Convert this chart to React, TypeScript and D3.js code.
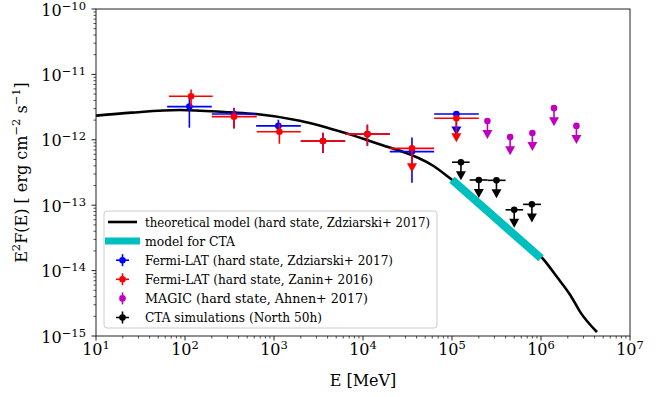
import * as d3 from 'd3';
import { useEffect, useRef } from 'react';

const width = 664;
const height = 397;

// theoretical model (hard state, Zdziarski+ 2017)
const modelE = [10, 25, 87, 316, 630, 1950, 6600, 2.0e4, 2.6e4, 6.2e4, 9.5e4, 3.16e5, 1.12e6, 1.5e6, 2.14e6, 2.75e6, 4.25e6];
const modelF = [2.34e-12, 2.6e-12, 2.86e-12, 2.63e-12, 2.48e-12, 1.96e-12, 1.25e-12, 7.6e-13, 6.8e-13, 3.98e-13, 2.58e-13, 6.3e-14, 1.37e-14, 8.1e-15, 4.2e-15, 2.34e-15, 1.15e-15];

// model for CTA
const ctaModelE = [1e5, 1e6];
const ctaModelF = [2.45e-13, 1.55e-14];

// Fermi-LAT (hard state, Zdziarski+ 2017)
const zdzE = [112, 355, 1120, 3550, 11200, 35500, 112000];
const zdzElo = [63, 200, 630, 2000, 6300, 20000, 63000];
const zdzEhi = [200, 630, 2000, 6300, 20000, 63000, 200000];
const zdzF = [3.22e-12, 2.48e-12, 1.63e-12, 9.55e-13, 1.22e-12, 6.6e-13, 2.48e-12];
const zdzFlo = [1.53e-12, 1.53e-12, 1.24e-12, 6.3e-13, 8.1e-13, 2.2e-13, null];
const zdzFhi = [4.43e-12, 3.1e-12, 2.03e-12, 1.28e-12, 1.7e-12, 1.08e-12, null];
const zdzUL = [false, false, false, false, false, false, true];

// Fermi-LAT (hard state, Zanin+ 2016)
const zanE = [117, 355, 1150, 3550, 11200, 35500, 112000];
const zanElo = [66, 200, 640, 2000, 6300, 20000, 63000];
const zanEhi = [205, 640, 2000, 6300, 20000, 63000, 200000];
const zanF = [4.64e-12, 2.26e-12, 1.33e-12, 9.55e-13, 1.22e-12, 7.4e-13, 2.13e-12];
const zanFlo = [3.2e-12, 1.48e-12, 8.7e-13, 6.3e-13, 8.1e-13, null, null];
const zanFhi = [5.9e-12, 2.9e-12, 1.76e-12, 1.28e-12, 1.7e-12, null, null];
const zanUL = [false, false, false, false, false, true, true];

// MAGIC (hard state, Ahnen+ 2017) upper limits
const magicE = [2.5e5, 4.5e5, 8.0e5, 1.4e6, 2.5e6];
const magicF = [1.94e-12, 1.1e-12, 1.27e-12, 3.05e-12, 1.63e-12];

// CTA simulations (North 50h) upper limits
const ctaSimE = [1.26e5, 2.0e5, 3.16e5, 5.0e5, 7.9e5];
const ctaSimElo = [1.0e5, 1.58e5, 2.5e5, 4.0e5, 6.3e5];
const ctaSimEhi = [1.58e5, 2.5e5, 4.0e5, 6.3e5, 1.0e6];
const ctaSimF = [4.54e-13, 2.43e-13, 2.4e-13, 8.5e-14, 1.03e-13];

const xTickExps = [1, 2, 3, 4, 5, 6, 7];
const yTickExps = [-15, -14, -13, -12, -11, -10];

const legendLabels = [
  'theoretical model (hard state, Zdziarski+ 2017)',
  'model for CTA',
  'Fermi-LAT (hard state, Zdziarski+ 2017)',
  'Fermi-LAT (hard state, Zanin+ 2016)',
  'MAGIC (hard state, Ahnen+ 2017)',
  'CTA simulations (North 50h)',
];
// measured text widths in the reference legend
const legendWidths = [285, 90, 248, 228, 223, 177];

const FONT = "'DejaVu Serif', 'Liberation Serif', serif";

export default function App() {
  const ref = useRef(null);

  useEffect(() => {
    const svg = d3.select(ref.current);
    svg.selectAll('*').remove();

    const margin = { top: 9, right: 34, bottom: 61, left: 96 };
    const innerWidth = width - margin.left - margin.right;
    const innerHeight = height - margin.top - margin.bottom;

    const x = d3.scaleLog().domain([1e1, 1e7]).range([0, innerWidth]);
    const y = d3.scaleLog().domain([1e-15, 1e-10]).range([innerHeight, 0]);

    svg.append('rect').attr('width', width).attr('height', height).attr('fill', '#fff');

    const g = svg.append('g')
      .attr('transform', `translate(${margin.left},${margin.top})`)
      .style('font-family', FONT);

    // ticks
    const axisColor = '#222';
    const minorX = [];
    for (let e = 1; e < 7; e++) for (let k = 2; k <= 9; k++) minorX.push(k * 10 ** e);
    const minorY = [];
    for (let e = -15; e < -10; e++) for (let k = 2; k <= 9; k++) minorY.push(k * 10 ** e);

    g.selectAll('.xminor').data(minorX).enter().append('line')
      .attr('x1', (d) => x(d)).attr('x2', (d) => x(d))
      .attr('y1', innerHeight).attr('y2', innerHeight + 2.5)
      .attr('stroke', axisColor).attr('stroke-width', 0.8);
    g.selectAll('.yminor').data(minorY).enter().append('line')
      .attr('y1', (d) => y(d)).attr('y2', (d) => y(d))
      .attr('x1', 0).attr('x2', -2.5)
      .attr('stroke', axisColor).attr('stroke-width', 0.8);
    g.selectAll('.xmajor').data(xTickExps).enter().append('line')
      .attr('x1', (d) => x(10 ** d)).attr('x2', (d) => x(10 ** d))
      .attr('y1', innerHeight).attr('y2', innerHeight + 4.5)
      .attr('stroke', axisColor).attr('stroke-width', 1);
    g.selectAll('.ymajor').data(yTickExps).enter().append('line')
      .attr('y1', (d) => y(10 ** d)).attr('y2', (d) => y(10 ** d))
      .attr('x1', 0).attr('x2', -4.5)
      .attr('stroke', axisColor).attr('stroke-width', 1);

    // tick labels
    const supLabel = (sel, exp) => {
      sel.append('tspan').text('10');
      sel.append('tspan').attr('dy', -6).style('font-size', '11.5px')
        .text(exp < 0 ? `\u2212${-exp}` : `${exp}`);
    };
    xTickExps.forEach((e) => {
      const t = g.append('text')
        .attr('x', x(10 ** e)).attr('y', innerHeight + 19)
        .attr('text-anchor', 'middle')
        .style('font-size', '16px');
      supLabel(t, e);
    });
    yTickExps.forEach((e) => {
      const t = g.append('text')
        .attr('x', -10).attr('y', y(10 ** e) + 6.5)
        .attr('text-anchor', 'end')
        .style('font-size', '16px');
      supLabel(t, e);
    });

    // axis labels
    g.append('text')
      .attr('x', innerWidth / 2).attr('y', innerHeight + 50)
      .attr('text-anchor', 'middle')
      .style('font-size', '16px')
      .text('E [MeV]');

    const yl = g.append('text')
      .attr('transform', `translate(${-69},${innerHeight / 2}) rotate(-90)`)
      .attr('text-anchor', 'middle')
      .style('font-size', '16px');
    yl.append('tspan').text('E');
    yl.append('tspan').attr('dy', -7).style('font-size', '11.5px').text('2');
    yl.append('tspan').attr('dy', 7).text('F(E) [ erg cm');
    yl.append('tspan').attr('dy', -7).style('font-size', '11.5px').text('\u22122');
    yl.append('tspan').attr('dy', 7).text(' s');
    yl.append('tspan').attr('dy', -7).style('font-size', '11.5px').text('\u22121');
    yl.append('tspan').attr('dy', 7).text(']');

    const plot = g.append('g');

    // theoretical model
    const model = modelE.map((e, i) => [e, modelF[i]]);
    plot.append('path')
      .attr('d', d3.line().x((d) => x(d[0])).y((d) => y(d[1])).curve(d3.curveMonotoneX)(model))
      .attr('fill', 'none').attr('stroke', '#000').attr('stroke-width', 2.6);

    // model for CTA
    const cta = ctaModelE.map((e, i) => [e, ctaModelF[i]]);
    plot.append('path')
      .attr('d', d3.line().x((d) => x(d[0])).y((d) => y(d[1]))(cta))
      .attr('fill', 'none').attr('stroke', '#00bfbf').attr('stroke-width', 8);

    const drawSeries = (s) => {
      const lw = 1.6;
      s.E.forEach((e, i) => {
        const cx = x(e);
        const cy = y(s.F[i]);
        if (s.Elo) {
          plot.append('line')
            .attr('x1', x(s.Elo[i])).attr('x2', x(s.Ehi[i]))
            .attr('y1', cy).attr('y2', cy)
            .attr('stroke', s.color).attr('stroke-width', lw);
        }
        if (s.UL[i]) {
          const tip = y(s.F[i] * s.ulFactor);
          plot.append('line')
            .attr('x1', cx).attr('x2', cx).attr('y1', cy).attr('y2', tip - 6)
            .attr('stroke', s.color).attr('stroke-width', lw);
          plot.append('path')
            .attr('d', `M${cx - 5},${tip - 9}L${cx + 5},${tip - 9}L${cx},${tip}Z`)
            .attr('fill', s.color);
        } else {
          plot.append('line')
            .attr('x1', cx).attr('x2', cx)
            .attr('y1', y(s.Flo[i])).attr('y2', y(s.Fhi[i]))
            .attr('stroke', s.color).attr('stroke-width', lw);
        }
        plot.append('circle').attr('cx', cx).attr('cy', cy).attr('r', 3.3).attr('fill', s.color);
      });
    };

    drawSeries({ E: zdzE, Elo: zdzElo, Ehi: zdzEhi, F: zdzF, Flo: zdzFlo, Fhi: zdzFhi, UL: zdzUL, color: '#0000ff', ulFactor: 0.47 });
    drawSeries({ E: zanE, Elo: zanElo, Ehi: zanEhi, F: zanF, Flo: zanFlo, Fhi: zanFhi, UL: zanUL, color: '#ff0000', ulFactor: 0.43 });
    drawSeries({ E: magicE, F: magicF, UL: magicE.map(() => true), color: '#bf00bf', ulFactor: 0.53 });
    drawSeries({ E: ctaSimE, Elo: ctaSimElo, Ehi: ctaSimEhi, F: ctaSimF, UL: ctaSimE.map(() => true), color: '#000', ulFactor: 0.53 });

    // frame
    g.append('rect')
      .attr('width', innerWidth).attr('height', innerHeight)
      .attr('fill', 'none').attr('stroke', axisColor).attr('stroke-width', 1);

    // legend
    const lg = g.append('g').attr('transform', `translate(${104 - margin.left},${211 - margin.top})`);
    lg.append('rect')
      .attr('width', 333).attr('height', 117).attr('rx', 3)
      .attr('fill', '#fff').attr('fill-opacity', 0.8)
      .attr('stroke', '#ccc').attr('stroke-width', 1);
    const rowY = (i) => 11 + i * 19.1;
    lg.append('line').attr('x1', 4).attr('x2', 33).attr('y1', rowY(0)).attr('y2', rowY(0))
      .attr('stroke', '#000').attr('stroke-width', 2.6);
    lg.append('line').attr('x1', 1).attr('x2', 36).attr('y1', rowY(1)).attr('y2', rowY(1))
      .attr('stroke', '#00bfbf').attr('stroke-width', 7);
    const handleColors = ['#0000ff', '#ff0000', '#bf00bf', '#000'];
    handleColors.forEach((c, j) => {
      const cy = rowY(j + 2);
      const hx = 18.5;
      if (j !== 2) {
        lg.append('line').attr('x1', hx - 6.5).attr('x2', hx + 6.5).attr('y1', cy).attr('y2', cy)
          .attr('stroke', c).attr('stroke-width', 1.6);
      }
      lg.append('line').attr('x1', hx).attr('x2', hx).attr('y1', cy - 6).attr('y2', cy + 6)
        .attr('stroke', c).attr('stroke-width', 1.6);
      lg.append('circle').attr('cx', hx).attr('cy', cy).attr('r', 3.3).attr('fill', c);
    });
    legendLabels.forEach((label, i) => {
      lg.append('text')
        .attr('x', 41).attr('y', rowY(i) + 4.5)
        .attr('textLength', legendWidths[i])
        .attr('lengthAdjust', 'spacingAndGlyphs')
        .style('font-size', '13px')
        .text(label);
    });

    return () => {
      svg.selectAll('*').remove();
    };
  }, []);

  return (
    <svg
      ref={ref}
      width={width}
      height={height}
      style={{ position: 'absolute', left: 0, top: 0 }}
      role="img"
      aria-label="Spectral energy distribution"
    />
  );
}
